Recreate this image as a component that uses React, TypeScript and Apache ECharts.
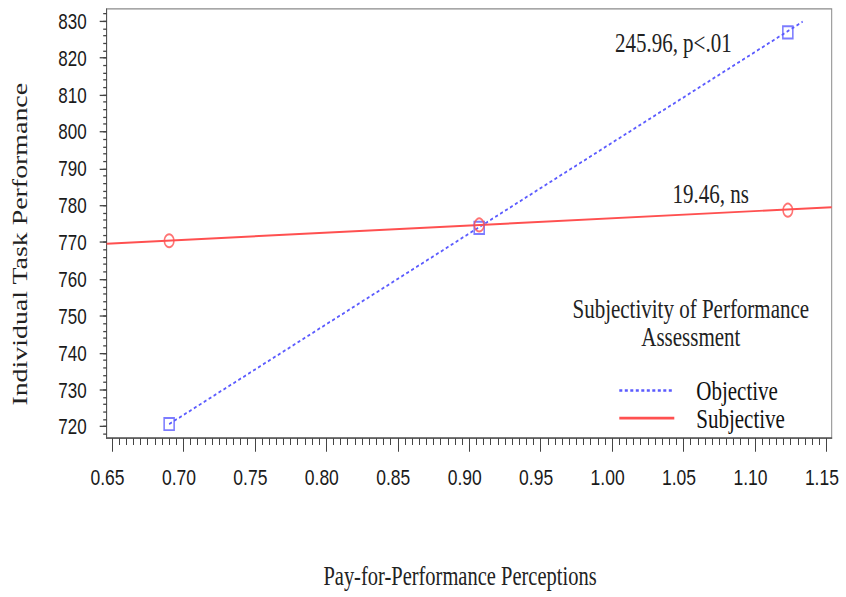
import React, { useEffect, useRef } from "react";
import * as echarts from "echarts";

// ---- data ----
const xPoints = [0.69, 0.907, 1.123];
const objectiveMeans = [720.7, 773.9, 826.9];
const subjectiveMeans = [770.4, 774.7, 778.7];
const objectiveLineX = [0.69, 1.1334];
const objectiveLineY = [720.7, 829.8];
const subjectiveLineX = [0.6463, 1.1537];
const subjectiveLineY = [769.6, 779.5];

const xTicks = [0.65, 0.7, 0.75, 0.8, 0.85, 0.9, 0.95, 1.0, 1.05, 1.1, 1.15];
const yTicks = [720, 730, 740, 750, 760, 770, 780, 790, 800, 810, 820, 830];
const xMinorTicks: number[] = [];
for (let i = 0; i <= 100; i++) xMinorTicks.push(+(0.65 + i * 0.005).toFixed(3));
const yMinorTicks: number[] = [];
for (let v = 718; v <= 832; v += 2) yMinorTicks.push(v);

const X_MIN = 0.6463;
const X_MAX = 1.1537;
const Y_MIN = 716.85;
const Y_MAX = 833.25;

const BLUE = "#5b5bff";
const RED = "#ff5050";
const SERIF = '"Liberation Serif", "Times New Roman", serif';
const SANS = '"Liberation Sans", Arial, sans-serif';

const H = 460;
const SCALE_Y = 597 / H;

export default function App() {
  const ref = useRef<HTMLDivElement>(null);
  useEffect(() => {
    if (!ref.current) return;
    const chart = echarts.init(ref.current, undefined, { renderer: "svg" });
    const zip = (xs: number[], ys: number[]) => xs.map((x, i) => [x, ys[i]]);
    const axisCommon = {
      type: "value" as const,
      splitLine: { show: false },
    };
    chart.setOption({
      animation: false,
      backgroundColor: "#ffffff",
      grid: {
        left: 106.7,
        right: 14.3,
        top: 6.9,
        bottom: 122.3,
        show: true,
        borderColor: "#8a8a8a",
        borderWidth: 1,
        containLabel: false,
        outerBoundsMode: "none",
      },
      xAxis: [
        {
          ...axisCommon,
          min: X_MIN,
          max: X_MAX,
          position: "bottom",
          axisLine: { show: true, lineStyle: { color: "#555", width: 1 } },
          axisTick: {
            show: true,
            length: 10.3,
            customValues: xTicks,
            lineStyle: { color: "#444", width: 1 },
          },
          axisLabel: {
            customValues: xTicks,
            formatter: (v: number) => v.toFixed(2),
            fontSize: 17.5,
            fontFamily: SANS,
            color: "#1a1a1a",
            margin: 21,
            padding: [0, 9, 0, 0],
          },
        },
        {
          ...axisCommon,
          min: X_MIN,
          max: X_MAX,
          position: "bottom",
          axisLine: { show: false },
          axisTick: {
            show: true,
            length: 5.2,
            customValues: xMinorTicks,
            lineStyle: { color: "#444", width: 1 },
          },
          axisLabel: { show: false },
        },
      ],
      yAxis: [
        {
          ...axisCommon,
          min: Y_MIN,
          max: Y_MAX,
          position: "left",
          axisLine: { show: true, lineStyle: { color: "#555", width: 1 } },
          axisTick: {
            show: true,
            length: 7,
            customValues: yTicks,
            lineStyle: { color: "#444", width: 1 },
          },
          axisLabel: {
            customValues: yTicks,
            fontSize: 17,
            fontFamily: SANS,
            color: "#1a1a1a",
            margin: 20,
          },
        },
        {
          ...axisCommon,
          min: Y_MIN,
          max: Y_MAX,
          position: "left",
          axisLine: { show: false },
          axisTick: {
            show: true,
            length: 3.5,
            customValues: yMinorTicks,
            lineStyle: { color: "#444", width: 1 },
          },
          axisLabel: { show: false },
        },
      ],
      legend: {
        data: ["Objective", "Subjective"],
        orient: "vertical",
        left: 613.3,
        top: 285.2,
        itemWidth: 55,
        itemHeight: 10,
        itemGap: 0,
        selectedMode: false,
        itemStyle: { opacity: 0 },
        textStyle: {
          fontFamily: SERIF,
          fontSize: 21,
          lineHeight: 21.3,
          color: "#111",
          padding: [0, 0, 0, 17],
        },
      },
      graphic: [
        {
          type: "text",
          x: 20,
          y: 188.2,
          rotation: Math.PI / 2,
          style: {
            text: "Individual Task Performance",
            fontFamily: SERIF,
            fontSize: 21.5,
            fill: "#222",
            align: "center",
            verticalAlign: "middle",
          },
        },
        {
          type: "text",
          x: 460,
          y: 443.8,
          style: {
            text: "Pay-for-Performance Perceptions",
            fontFamily: SERIF,
            fontSize: 20.5,
            fill: "#222",
            align: "center",
            verticalAlign: "middle",
          },
        },
        {
          type: "text",
          x: 690.8,
          y: 248.5,
          style: {
            text: "Subjectivity of Performance\nAssessment",
            fontFamily: SERIF,
            fontSize: 21,
            lineHeight: 21.8,
            fill: "#222",
            align: "center",
            verticalAlign: "middle",
          },
        },
        {
          type: "text",
          x: 673.3,
          y: 33.1,
          style: {
            text: "245.96, p<.01",
            fontFamily: SERIF,
            fontSize: 21,
            fill: "#222",
            align: "center",
            verticalAlign: "middle",
          },
        },
        {
          type: "text",
          x: 710.8,
          y: 148.7,
          style: {
            text: "19.46, ns",
            fontFamily: SERIF,
            fontSize: 21,
            fill: "#222",
            align: "center",
            verticalAlign: "middle",
          },
        },
      ],
      series: [
        {
          name: "Objective",
          type: "line",
          xAxisIndex: 0,
          yAxisIndex: 0,
          data: zip(objectiveLineX, objectiveLineY),
          symbol: "none",
          color: BLUE,
          lineStyle: { color: BLUE, width: 1.5, type: [3, 2.5] },
          z: 3,
        },
        {
          name: "Subjective",
          type: "line",
          xAxisIndex: 0,
          yAxisIndex: 0,
          data: zip(subjectiveLineX, subjectiveLineY),
          symbol: "none",
          color: RED,
          lineStyle: { color: RED, width: 1.5, type: "solid" },
          z: 3,
        },
        {
          name: "Objective means",
          type: "scatter",
          xAxisIndex: 0,
          yAxisIndex: 0,
          data: zip(xPoints, objectiveMeans),
          symbol: "rect",
          symbolSize: [10, 9.4],
          itemStyle: { color: "rgba(0,0,0,0)", borderColor: BLUE, borderWidth: 1.5 },
          z: 4,
        },
        {
          name: "Subjective means",
          type: "scatter",
          xAxisIndex: 0,
          yAxisIndex: 0,
          data: zip(xPoints, subjectiveMeans),
          symbol: "circle",
          symbolSize: [9.5, 10],
          itemStyle: { color: "rgba(0,0,0,0)", borderColor: RED, borderWidth: 1.5 },
          z: 4,
        },
      ],
    });
    return () => chart.dispose();
  }, []);
  return (
    <div
      ref={ref}
      style={{
        position: "absolute",
        left: 0,
        top: 0,
        width: 846,
        height: H,
        transform: `scaleY(${SCALE_Y})`,
        transformOrigin: "0 0",
        background: "#fff",
      }}
    />
  );
}
